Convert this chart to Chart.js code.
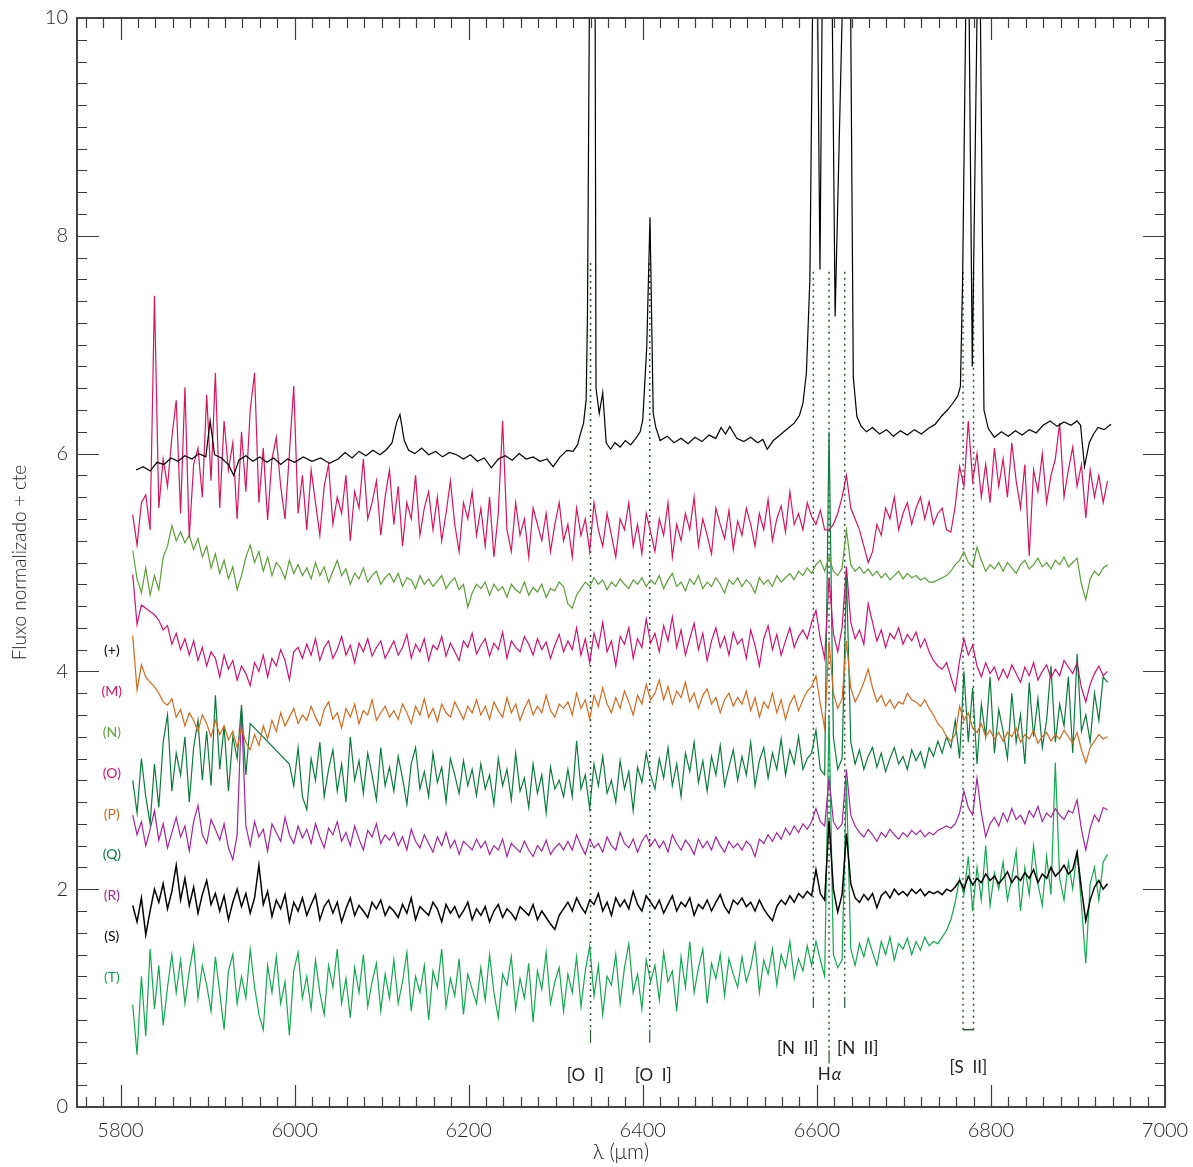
<!DOCTYPE html>
<html>
<head>
<meta charset="utf-8">
<script src="https://cdn.jsdelivr.net/npm/chart.js@4.4.1/dist/chart.umd.min.js"></script>
<style>
  html, body { margin: 0; padding: 0; background: #fff; }
  canvas { display: block; }
</style>
</head>
<body>
<canvas id="myChart" width="1193" height="1167"></canvas>
<script>
// common wavelength grid for the noisy spectra (5 A step, 5814..6934)
var lam = [];
for (var w = 5814; w <= 6934; w += 5) lam.push(w);

// (+) top spectrum, sampled on its own wavelengths (emission lines)
var lamPlus = [5818,5826,5834,5842,5850,5858,5866,5874,5882,5890,5898,5903,5908,5916,5924,5930,5936,5944,5952,5960,
  5968,5976,5984,5992,6000,6010,6020,6030,6040,6050,6058,6066,6074,6082,6090,6098,6106,6112,6117,6121,
  6126,6131,6138,6146,6154,6162,6170,6178,6186,6194,6202,6210,6218,6226,6234,6242,6250,6258,6266,6274,
  6282,6290,6297,6305,6313,6320,6325,6329,6332,6335,6336.5,6338.6,6342,6345.3,6346.3,6350,6354,6358,6363,6368,
  6374,6380,6386,6392,6397,6400,6404.6,6408.3,6412,6415,6420,6428,6436,6444,6452,6460,6468,6476,6484,6490,
  6495,6500,6508,6516,6524,6532,6538,6543,6550,6556,6562,6568,6574,6580,6584,6588,6592,6595,6598,6601,
  6603.6,6606,6612,6617.8,6621,6629,6634,6638.9,6641.9,6646,6651,6657,6664,6672,6680,6688,6696,6704,6712,6720,
  6728,6736,6744,6750,6756,6762,6765,6767.5,6771,6773,6775,6778.6,6784,6786,6788,6792,6797,6804,6812,6820,
  6828,6836,6844,6852,6860,6868,6876,6884,6892,6899,6903,6907.5,6913,6918,6923,6930,6938];
var fluxPlus = [5.85,5.88,5.84,5.92,5.90,5.96,5.93,5.98,5.95,6.00,5.97,6.30,5.99,5.96,5.90,5.80,5.94,5.98,5.93,5.97,
  5.92,5.96,5.90,5.95,5.92,5.97,5.93,5.96,5.91,5.95,6.01,5.96,6.02,5.98,6.03,5.99,6.04,6.10,6.28,6.36,
  6.12,6.03,6.00,6.05,5.99,6.02,5.97,6.01,5.99,5.95,5.99,5.93,5.96,5.87,5.95,5.98,5.94,6.00,5.95,5.97,
  5.93,5.95,5.88,5.97,6.03,6.02,6.08,6.20,6.28,6.50,7.30,10.0,17.0,10.0,6.60,6.37,6.56,6.10,6.04,6.10,
  6.06,6.12,6.08,6.14,6.20,6.31,6.98,8.17,6.37,6.24,6.12,6.16,6.10,6.14,6.09,6.15,6.11,6.17,6.14,6.24,
  6.18,6.25,6.14,6.11,6.15,6.10,6.13,6.04,6.12,6.16,6.20,6.24,6.28,6.35,6.46,6.74,7.60,10.0,16.0,10.0,
  7.69,10.0,20.0,10.0,7.26,10.0,18.0,10.0,6.70,6.34,6.25,6.20,6.24,6.18,6.22,6.16,6.21,6.17,6.22,6.18,
  6.23,6.27,6.35,6.40,6.46,6.53,6.62,7.62,10.0,16.0,10.0,6.80,10.0,16.0,10.0,6.40,6.23,6.15,6.20,6.16,
  6.21,6.17,6.22,6.19,6.26,6.30,6.25,6.29,6.26,6.30,6.26,5.88,6.10,6.18,6.24,6.22,6.27];

// noisy spectra on the common grid, one row per 100 A
var fluxM = [5.44,5.16,5.55,5.62,5.30,7.45,5.50,5.95,5.70,6.15,6.49,5.45,6.61,5.23,5.90,6.05,5.60,6.54,5.75,6.74,
  5.50,6.30,5.85,6.10,5.40,6.20,5.65,6.40,6.74,5.55,6.05,5.39,5.95,6.15,5.70,5.40,6.00,6.62,5.45,5.80,
  5.30,5.85,5.55,5.25,5.70,5.90,5.35,5.60,5.45,5.80,5.20,5.65,5.50,5.95,5.40,5.55,5.75,5.25,5.60,5.85,
  5.35,5.70,5.15,5.55,5.40,5.80,5.25,5.50,5.65,5.30,5.60,5.20,5.45,5.75,5.35,5.10,5.55,5.40,5.65,5.25,
  5.50,5.15,5.60,5.05,5.45,6.30,5.30,5.10,5.55,5.25,5.40,5.05,5.50,5.35,5.20,5.45,5.10,5.35,5.55,5.20,
  5.35,5.05,5.50,5.25,5.40,5.10,5.55,5.30,5.15,5.45,5.25,5.05,5.40,5.30,5.55,5.15,5.35,5.08,5.45,5.28,
  5.10,5.40,5.25,5.55,5.05,5.35,5.20,5.45,5.30,5.60,5.15,5.40,5.25,5.08,5.50,5.35,5.22,5.48,5.12,5.38,
  5.25,5.50,5.35,5.15,5.45,5.30,5.58,5.20,5.40,5.52,5.28,5.65,5.35,5.45,5.30,5.55,5.42,5.35,5.48,5.30,
  5.30,5.35,5.45,5.60,5.80,5.50,5.40,5.30,5.15,5.00,5.10,5.35,5.25,5.50,5.40,5.60,5.30,5.45,5.55,5.35,
  5.50,5.60,5.40,5.56,5.35,5.45,5.50,5.30,5.28,5.52,5.88,5.70,6.30,5.75,6.00,5.60,5.90,5.55,6.05,5.70,
  5.95,5.60,6.10,5.75,5.50,5.90,5.06,5.85,5.65,6.00,5.55,5.80,5.95,6.28,5.60,5.85,6.06,5.70,5.90,5.41,
  5.85,5.60,5.80,5.55,5.75];
var fluxN = [5.11,4.85,4.72,4.95,4.70,4.88,4.75,5.05,5.15,5.34,5.20,5.28,5.18,5.25,5.12,5.22,5.05,5.15,4.95,5.08,
  4.90,5.02,4.85,4.96,4.75,4.88,5.05,5.16,5.00,5.10,4.92,5.05,4.88,5.00,4.95,4.85,5.02,4.90,4.98,4.88,
  4.95,4.85,5.00,4.88,4.96,4.82,4.92,5.02,4.88,4.94,4.80,4.90,4.85,4.95,4.82,4.88,4.92,4.80,4.86,4.90,
  4.82,4.90,4.78,4.86,4.84,4.76,4.88,4.80,4.85,4.78,4.83,4.88,4.76,4.82,4.86,4.75,4.80,4.59,4.72,4.80,
  4.76,4.82,4.70,4.80,4.74,4.78,4.68,4.80,4.75,4.72,4.82,4.70,4.77,4.73,4.80,4.68,4.76,4.74,4.82,4.78,
  4.62,4.58,4.70,4.76,4.82,4.78,4.86,4.80,4.84,4.75,4.82,4.78,4.85,4.80,4.76,4.84,4.80,4.86,4.78,4.84,
  4.80,4.88,4.76,4.84,4.90,4.78,4.82,4.74,4.85,4.80,4.88,4.76,4.82,4.78,4.86,4.80,4.72,4.84,4.80,4.86,
  4.78,4.84,4.80,4.72,4.86,4.80,4.84,4.78,4.88,4.82,4.86,4.90,4.84,4.92,4.88,4.95,4.90,4.98,5.02,4.92,
  5.05,4.92,4.88,4.95,5.30,4.98,4.92,4.96,4.90,4.94,4.88,4.92,4.86,4.90,4.84,4.88,4.92,4.85,4.90,4.86,
  4.88,4.84,4.86,4.82,4.82,4.84,4.86,4.88,4.92,4.98,5.02,5.10,5.00,4.96,5.14,5.02,4.92,4.98,4.94,5.00,
  4.92,5.00,4.95,4.90,4.98,5.02,4.94,4.98,5.04,4.96,5.00,4.94,5.02,4.98,5.05,4.96,5.00,5.04,4.80,4.66,
  4.85,4.92,4.88,4.95,4.98];
var fluxO = [4.89,4.43,4.61,4.58,4.55,4.52,4.47,4.38,4.42,4.25,4.35,4.20,4.30,4.15,4.28,4.10,4.22,4.05,4.18,4.12,
  3.95,4.15,4.02,4.10,3.92,4.05,3.98,3.87,4.08,4.00,4.15,3.95,4.12,4.05,4.20,4.10,3.92,4.18,4.22,4.12,
  4.25,4.15,4.30,4.10,4.22,4.28,4.12,4.20,4.32,4.15,4.24,4.08,4.26,4.18,4.30,4.14,4.22,4.28,4.12,4.20,
  4.28,4.15,4.22,4.34,4.12,4.25,4.18,4.30,4.10,4.24,4.20,4.32,4.14,4.26,4.18,4.10,4.28,4.22,4.35,4.16,
  4.24,4.30,4.14,4.26,4.20,4.36,4.12,4.28,4.22,4.18,4.32,4.25,4.15,4.30,4.20,4.27,4.12,4.24,4.34,4.18,
  4.28,4.20,4.40,4.15,4.30,4.08,4.35,4.22,4.45,4.18,4.28,4.05,4.32,4.25,4.40,4.12,4.30,4.22,4.48,4.26,
  4.35,4.18,4.42,4.28,4.50,4.22,4.38,4.15,4.30,4.44,4.20,4.35,4.10,4.28,4.40,4.22,4.32,4.15,4.36,4.25,
  4.30,4.12,4.38,4.24,4.05,4.30,4.42,4.20,4.34,4.15,4.28,4.40,4.22,4.32,4.38,4.30,4.45,4.56,4.30,4.12,
  4.86,4.35,4.18,4.40,4.96,4.45,4.30,4.38,4.25,4.62,4.45,4.28,4.38,4.22,4.35,4.30,4.40,4.25,4.34,4.28,
  4.36,4.22,4.30,4.18,4.10,4.05,4.02,4.08,3.95,3.82,4.10,4.30,4.15,4.24,4.05,3.95,4.08,3.98,4.04,3.92,
  4.02,3.94,4.06,3.98,3.90,4.04,3.96,4.08,3.92,4.00,4.06,3.94,4.02,3.96,4.10,4.04,3.98,4.08,3.85,3.72,
  3.88,3.98,4.05,3.96,4.00];
var fluxP = [4.33,3.83,4.06,3.95,3.90,3.86,3.80,3.72,3.69,3.75,3.58,3.65,3.50,3.62,3.55,3.45,3.60,3.52,3.40,3.55,
  3.42,3.50,3.37,3.45,3.30,3.48,3.35,3.28,3.42,3.32,3.50,3.38,3.55,3.45,3.62,3.50,3.58,3.66,3.52,3.60,
  3.55,3.68,3.58,3.50,3.65,3.72,3.56,3.62,3.48,3.66,3.58,3.70,3.52,3.64,3.60,3.74,3.55,3.62,3.68,3.58,
  3.64,3.56,3.70,3.62,3.52,3.68,3.60,3.75,3.58,3.66,3.54,3.70,3.62,3.58,3.72,3.64,3.56,3.68,3.62,3.74,
  3.60,3.68,3.56,3.72,3.64,3.58,3.76,3.62,3.70,3.55,3.66,3.74,3.60,3.68,3.62,3.78,3.64,3.58,3.70,3.66,
  3.72,3.60,3.80,3.66,3.74,3.56,3.78,3.68,3.85,3.70,3.62,3.76,3.66,3.82,3.72,3.60,3.78,3.70,3.88,3.74,
  3.80,3.92,3.74,3.86,3.70,3.82,3.76,3.90,3.72,3.80,3.66,3.78,3.84,3.70,3.76,3.62,3.74,3.80,3.68,3.76,
  3.70,3.82,3.64,3.76,3.58,3.72,3.66,3.80,3.62,3.74,3.56,3.70,3.78,3.64,3.74,3.82,3.86,3.96,3.70,3.48,
  4.28,3.80,3.66,3.75,4.28,3.85,3.72,3.80,3.90,4.02,3.85,3.72,3.78,3.68,3.74,3.66,3.72,3.70,3.80,3.74,
  3.72,3.68,3.74,3.66,3.60,3.52,3.48,3.40,3.36,3.42,3.68,3.55,3.62,3.48,3.44,3.52,3.40,3.46,3.38,3.44,
  3.36,3.44,3.40,3.48,3.35,3.42,3.38,3.46,3.34,3.40,3.44,3.36,3.42,3.38,3.46,3.40,3.34,3.44,3.28,3.16,
  3.30,3.36,3.42,3.38,3.40];
var fluxQ = [3.00,2.70,3.20,2.85,2.60,3.15,2.75,3.35,3.60,2.90,3.25,3.05,3.40,2.80,3.30,3.55,3.00,3.45,2.95,3.78,
  3.10,3.50,2.90,3.40,3.20,3.69,3.05,3.52,null,null,null,null,null,null,null,null,3.15,2.95,3.30,2.85,
  2.73,3.20,3.00,3.35,2.85,3.10,3.28,2.90,3.15,2.80,3.40,3.00,3.18,2.88,3.25,3.05,2.82,3.30,2.95,3.12,
  2.90,3.22,3.02,2.78,3.15,3.30,2.92,3.08,2.85,3.25,2.98,3.12,2.80,3.20,3.05,2.88,3.18,2.95,3.10,2.86,
  3.15,2.92,3.05,2.78,3.20,2.95,3.10,2.82,3.25,2.90,3.02,2.75,3.15,2.88,3.05,2.70,3.12,2.92,3.00,2.85,
  3.10,2.85,3.36,2.92,3.05,2.74,3.15,2.95,3.22,2.88,3.00,2.80,3.18,2.92,3.08,2.72,3.12,2.98,3.25,3.05,
  2.92,3.20,3.02,3.30,2.95,3.15,2.85,3.25,3.08,3.35,2.98,3.18,2.90,3.22,3.05,3.32,2.95,3.12,3.28,3.00,
  3.22,3.05,3.35,2.95,3.18,3.30,3.02,3.25,3.10,3.38,3.05,3.28,3.15,3.40,3.10,3.20,3.25,3.46,3.10,3.05,
  6.20,3.40,3.10,3.20,4.90,3.35,3.15,3.28,3.10,3.22,3.30,3.12,3.25,3.08,3.20,3.30,3.15,3.22,3.10,3.28,
  3.18,3.26,3.12,3.30,3.22,3.36,3.25,3.40,3.30,3.55,3.20,4.00,3.35,3.85,3.15,3.70,3.40,3.95,3.25,3.65,
  3.45,3.20,3.80,3.35,3.60,3.15,3.90,3.40,3.75,3.30,3.55,4.05,3.35,3.70,3.50,3.95,3.25,4.16,3.45,3.60,
  3.35,3.80,3.55,3.95,3.90];
var fluxR = [2.68,2.50,2.62,2.40,2.55,2.72,2.45,2.60,2.38,2.52,2.66,2.48,2.58,2.35,2.62,2.77,2.50,2.42,2.64,2.55,
  2.45,2.60,2.38,2.27,2.50,3.65,2.58,2.40,2.62,2.48,2.55,2.35,2.60,2.52,2.44,2.66,2.50,2.42,2.58,2.47,
  2.55,2.42,2.60,2.48,2.38,2.56,2.50,2.62,2.44,2.52,2.40,2.58,2.46,2.36,2.54,2.48,2.60,2.42,2.50,2.45,
  2.52,2.40,2.48,2.36,2.55,2.44,2.38,2.50,2.42,2.34,2.48,2.40,2.52,2.38,2.45,2.32,2.44,2.40,2.36,2.46,
  2.38,2.44,2.32,2.40,2.36,2.46,2.30,2.42,2.38,2.34,2.44,2.36,2.30,2.40,2.35,2.45,2.32,2.38,2.42,2.36,
  2.44,2.36,2.50,2.40,2.32,2.46,2.38,2.42,2.34,2.48,2.40,2.36,2.52,2.42,2.38,2.46,2.34,2.44,2.50,2.40,
  2.46,2.38,2.44,2.34,2.50,2.42,2.36,2.45,2.40,2.32,2.46,2.38,2.44,2.36,2.48,2.40,2.34,2.44,2.38,2.42,
  2.36,2.44,2.40,2.30,2.46,2.42,2.50,2.44,2.52,2.46,2.56,2.50,2.58,2.52,2.60,2.55,2.62,2.74,2.62,2.58,
  3.02,2.62,2.55,2.60,3.10,2.68,2.58,2.52,2.48,2.55,2.50,2.44,2.52,2.48,2.55,2.50,2.46,2.52,2.48,2.54,
  2.50,2.54,2.48,2.52,2.50,2.54,2.56,2.58,2.56,2.60,2.70,2.90,2.75,2.68,3.02,2.70,2.48,2.60,2.66,2.58,
  2.70,2.62,2.74,2.64,2.68,2.60,2.72,2.66,2.76,2.62,2.70,2.66,2.74,2.68,2.64,2.72,2.70,2.82,2.55,2.36,
  2.56,2.68,2.62,2.75,2.73];
var fluxS = [1.85,1.70,1.92,1.58,1.80,2.00,1.88,2.05,1.82,1.98,2.22,1.90,2.10,1.85,2.02,1.78,1.95,2.08,1.86,1.96,
  1.80,1.94,1.72,1.88,2.00,1.84,1.96,1.78,1.92,2.22,1.86,1.98,1.75,1.90,1.82,1.95,1.70,1.88,1.80,1.92,
  1.76,1.86,1.95,1.72,1.84,1.90,1.78,1.88,1.70,1.82,1.92,1.76,1.85,1.80,1.74,1.88,1.82,1.90,1.76,1.84,
  1.80,1.74,1.86,1.78,1.92,1.72,1.84,1.80,1.76,1.88,1.82,1.70,1.86,1.78,1.84,1.74,1.80,1.88,1.72,1.82,
  1.76,1.84,1.70,1.80,1.86,1.74,1.82,1.78,1.72,1.84,1.80,1.76,1.86,1.72,1.80,1.74,1.68,1.63,1.76,1.82,
  1.88,1.80,1.92,1.84,1.78,1.90,1.86,1.96,1.80,1.88,1.76,1.92,1.84,1.90,1.82,1.98,1.86,1.80,1.94,1.88,
  1.82,1.90,1.78,1.86,1.94,1.80,1.88,1.84,1.92,1.76,1.86,1.82,1.90,1.80,1.88,1.95,1.84,1.78,1.90,1.86,
  1.92,1.84,1.88,1.80,1.90,1.82,1.76,1.71,1.84,1.90,1.86,1.94,1.88,1.96,1.92,1.98,1.94,2.18,1.96,1.90,
  2.63,2.00,1.79,1.95,2.51,2.05,1.92,1.88,1.95,1.90,1.96,1.83,1.94,1.98,1.92,2.00,1.95,1.98,1.94,2.00,
  1.96,2.00,1.94,1.98,1.96,1.98,1.95,2.00,1.98,2.02,2.08,2.00,2.12,2.04,2.10,2.06,2.14,2.08,2.12,2.05,
  2.10,2.16,2.06,2.12,2.08,2.15,2.10,2.18,2.06,2.14,2.10,2.20,2.12,2.16,2.22,2.14,2.18,2.34,2.00,1.71,
  1.90,2.02,2.08,2.00,2.05];
var fluxT = [0.94,0.48,1.20,0.65,1.45,0.90,1.30,0.75,1.10,1.40,1.05,1.35,0.95,1.25,1.48,1.00,1.30,1.12,0.88,1.38,
  1.05,0.71,1.25,1.40,0.95,1.20,1.00,1.45,1.10,0.85,0.71,1.30,1.05,1.38,0.95,1.15,0.66,1.25,1.42,1.00,
  1.20,0.90,1.35,1.05,0.85,1.30,1.10,1.45,0.95,1.18,0.82,1.28,1.05,1.40,0.92,1.15,1.32,0.88,1.22,1.00,
  1.35,0.95,1.15,1.42,0.88,1.20,1.05,1.30,0.80,1.25,1.10,1.45,0.92,1.18,1.02,1.36,0.85,1.22,1.08,0.95,
  1.28,0.98,1.40,1.05,0.82,1.22,1.12,1.38,0.90,1.18,1.00,1.32,0.78,1.25,1.08,1.42,0.95,1.15,1.28,0.88,
  1.22,1.05,1.38,0.92,1.25,1.48,1.02,1.30,0.85,1.20,1.12,1.40,0.95,1.28,1.50,1.05,1.22,0.90,1.35,1.15,
  1.30,0.98,1.42,1.15,1.25,0.88,1.38,1.10,1.52,1.05,1.28,1.45,0.95,1.32,1.18,1.40,1.02,1.36,1.22,1.10,
  1.38,1.15,1.28,1.50,1.05,1.35,1.22,1.45,1.12,1.40,1.28,1.52,1.18,1.36,1.25,1.48,1.30,1.52,1.35,1.20,
  3.60,1.40,1.28,1.35,3.00,1.45,1.30,1.50,1.38,1.55,1.42,1.30,1.52,1.40,1.56,1.35,1.50,1.45,1.55,1.40,
  1.52,1.44,1.56,1.48,1.52,1.50,1.56,1.62,1.72,1.88,2.10,1.95,2.30,1.80,2.20,1.90,2.40,1.85,2.15,2.00,
  2.25,1.90,2.10,2.35,1.80,2.20,1.95,2.40,2.05,1.85,2.30,1.95,3.16,2.10,1.90,2.25,2.00,2.35,1.85,1.32,
  2.05,2.20,1.90,2.25,2.32];

var tagNames = ['(+)', '(M)', '(N)', '(O)', '(P)', '(Q)', '(R)', '(S)', '(T)'];
var tagColors = ['#000000', '#d6155b', '#5b9e36', '#cf1270', '#d2691e', '#0a7b3d', '#a1249c', '#000000', '#13a751'];
var tagLevels = [4.19, 3.82, 3.44, 3.06, 2.69, 2.32, 1.94, 1.57, 1.19];

// emission line markers
var lineWave = [6340, 6408, 6596, 6614, 6632, 6768, 6780];
var lineTop = [7.75, 7.75, 7.67, 7.67, 7.67, 7.67, 7.67];
var lineBottom = [0.71, 0.71, 1.01, 0.52, 1.01, 0.71, 0.71];
var lineFoot = [0.59, 0.59, 0.91, 0.40, 0.91, 0.71, 0.71];
var lineNames = ['[O  I]', '[O  I]', '[N  II]', '[N  II]', 'Hα', '[S  II]'];
var lineNameWave = [6334, 6412, 6578, 6647, 6616, 6774];
var lineNameLevel = [0.29, 0.29, 0.54, 0.54, 0.30, 0.36];

var xTicks = [5800, 6000, 6200, 6400, 6600, 6800, 7000];
var yTicks = [0, 2, 4, 6, 8, 10];

var FONT = 'Lato, "DejaVu Sans", sans-serif';
var markColor = '#2d5536';

function onGrid(arr) {
    return lam.map(function(x, i) { return {x: x, y: arr[i]}; });
}

var spectra = [fluxPlus, fluxM, fluxN, fluxO, fluxP, fluxQ, fluxR, fluxS, fluxT];
var datasets = [];
spectra.forEach(function(arr, k) {
    var pts = (k === 0) ? lamPlus.map(function(x, i) { return {x: x, y: fluxPlus[i]}; }) : onGrid(arr);
    datasets.push({
        data: pts,
        borderColor: tagColors[k],
        borderWidth: (k === 7) ? 1.5 : 1.2,
        pointRadius: 0,
        tension: 0,
        spanGaps: true
    });
});
lineWave.forEach(function(x, i) {
    datasets.push({
        data: [{x: x, y: lineTop[i]}, {x: x, y: lineBottom[i]}],
        borderColor: markColor, borderWidth: 1.5, borderDash: [2, 4],
        pointRadius: 0
    });
    if (lineFoot[i] !== lineBottom[i]) {
        datasets.push({
            data: [{x: x, y: lineBottom[i]}, {x: x, y: lineFoot[i]}],
            borderColor: markColor, borderWidth: 1.2, pointRadius: 0
        });
    }
});
// [S II] bracket
datasets.push({
    data: [{x: lineWave[5], y: lineBottom[5]}, {x: lineWave[6], y: lineBottom[6]}],
    borderColor: markColor, borderWidth: 1.5, pointRadius: 0
});

var frameTicks = {
    id: 'frameTicks',
    afterDraw: function(chart) {
        var ctx = chart.ctx, a = chart.chartArea;
        var xs = chart.scales.x, ys = chart.scales.y;
        ctx.save();
        ctx.strokeStyle = '#3a3a3a';
        ctx.lineWidth = 1.2;
        ctx.beginPath();
        for (var w = 5760; w <= 7000; w += 20) {
            var px = Math.round(xs.getPixelForValue(w)) + 0.5;
            var len = (w % 200 === 0) ? 22 : 10;
            ctx.moveTo(px, a.bottom); ctx.lineTo(px, a.bottom - len);
            ctx.moveTo(px, a.top); ctx.lineTo(px, a.top + len);
        }
        for (var k = 1; k < 50; k++) {
            var py = Math.round(ys.getPixelForValue(k * 0.2)) + 0.5;
            var ln = (k % 10 === 0) ? 22 : 10;
            ctx.moveTo(a.left, py); ctx.lineTo(a.left + ln, py);
            ctx.moveTo(a.right, py); ctx.lineTo(a.right - ln, py);
        }
        ctx.stroke();
        ctx.lineWidth = 2;
        ctx.strokeStyle = '#444';
        ctx.strokeRect(a.left, a.top, a.right - a.left, a.bottom - a.top);

        // spectrum tags
        ctx.font = '14px ' + FONT;
        ctx.textAlign = 'center';
        ctx.textBaseline = 'middle';
        tagNames.forEach(function(t, i) {
            ctx.fillStyle = tagColors[i];
            ctx.fillText(t, xs.getPixelForValue(5790), ys.getPixelForValue(tagLevels[i]));
        });

        // line names
        ctx.fillStyle = '#222';
        ctx.font = '17px ' + FONT;
        lineNames.forEach(function(t, i) {
            var x = xs.getPixelForValue(lineNameWave[i]);
            var y = ys.getPixelForValue(lineNameLevel[i]);
            if (t === 'Hα') {
                ctx.textAlign = 'right';
                ctx.fillText('H', x, y);
                ctx.textAlign = 'left';
                ctx.font = 'italic 17px ' + FONT;
                ctx.fillText('α', x + 1, y);
                ctx.font = '17px ' + FONT;
                ctx.textAlign = 'center';
            } else {
                ctx.fillText(t, x, y);
            }
        });
        ctx.restore();
    }
};

var ctx = document.getElementById('myChart').getContext('2d');
var myChart = new Chart(ctx, {
    type: 'line',
    data: { datasets: datasets },
    options: {
        responsive: false,
        animation: false,
        layout: { padding: { top: 18, right: 28, left: 0, bottom: 0 } },
        plugins: { legend: { display: false }, tooltip: { enabled: false } },
        scales: {
            x: {
                type: 'linear', min: 5750, max: 7000,
                afterBuildTicks: function(s) { s.ticks = xTicks.map(function(v) { return {value: v}; }); },
                afterFit: function(s) { s.height = 60; s.paddingLeft = 0; s.paddingRight = 0; },
                grid: { display: false, drawTicks: false }, border: { display: false },
                ticks: { color: '#222', padding: 12, maxRotation: 0,
                         callback: function(v) { return String(v); },
                         font: { family: FONT, size: 20, weight: '300' } },
                title: { display: true, text: 'λ (μm)', color: '#222', padding: { top: 0, bottom: 2 },
                         font: { family: FONT, size: 21, weight: '300' } }
            },
            y: {
                type: 'linear', min: 0, max: 10,
                afterBuildTicks: function(s) { s.ticks = yTicks.map(function(v) { return {value: v}; }); },
                afterFit: function(s) { s.width = 77; s.paddingTop = 0; s.paddingBottom = 0; },
                grid: { display: false, drawTicks: false }, border: { display: false },
                ticks: { color: '#222', padding: 9,
                         callback: function(v) { return String(v); },
                         font: { family: FONT, size: 20, weight: '300' } },
                title: { display: true, text: 'Fluxo normalizado + cte', color: '#222', padding: { top: 8, bottom: 0 },
                         font: { family: FONT, size: 19, weight: '300' } }
            }
        }
    },
    plugins: [frameTicks]
});
</script>
</body>
</html>
